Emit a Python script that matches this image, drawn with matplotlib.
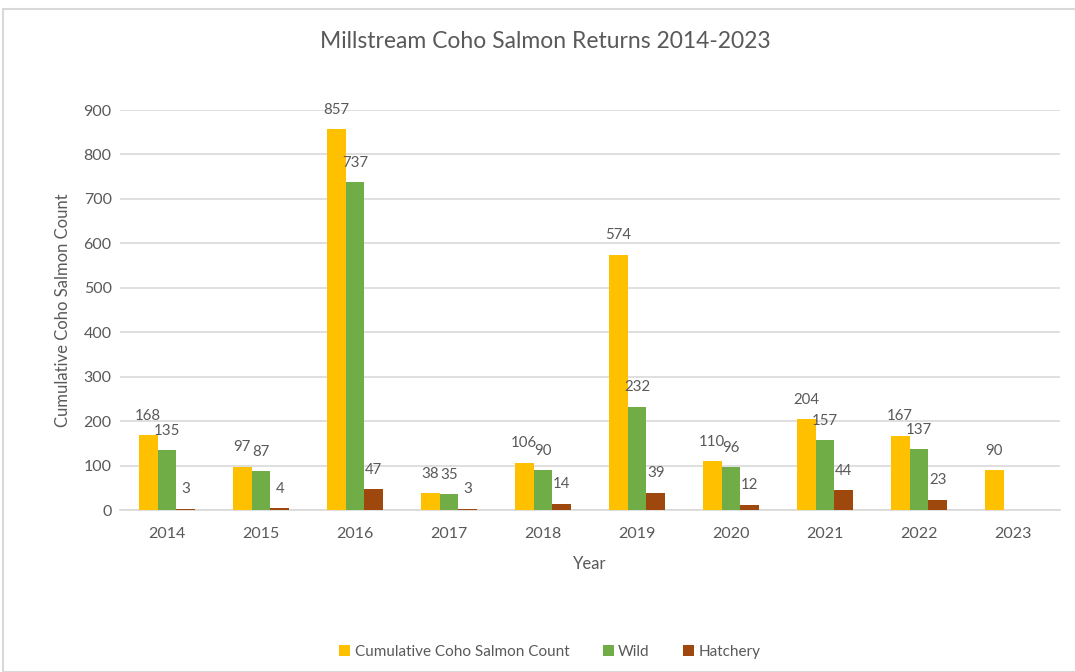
import matplotlib
matplotlib.use("Agg")
import matplotlib.pyplot as plt
import numpy as np
from matplotlib.patches import Rectangle

years = ["2014", "2015", "2016", "2017", "2018", "2019", "2020", "2021", "2022", "2023"]
cumulative = [168, 97, 857, 38, 106, 574, 110, 204, 167, 90]
wild = [135, 87, 737, 35, 90, 232, 96, 157, 137, None]
hatchery = [3, 4, 47, 3, 14, 39, 12, 44, 23, None]

series_names = ["Cumulative Coho Salmon Count", "Wild", "Hatchery"]
colors = ["#FFC000", "#70AD47", "#9E480E"]
text_color = "#595959"

plt.rcParams['font.family'] = ['Lato', 'DejaVu Sans']

fig = plt.figure(figsize=(10.75, 6.72), dpi=100)
fig.patches.append(Rectangle((3/1075, 0), 1.2, 1 - 9/672, transform=fig.transFigure,
                             fill=False, edgecolor="#D9D9D9", linewidth=1.5))
ax = fig.add_axes([120/1075, 1 - 510/672, 940/1075, 400/672])

x = np.arange(len(years))
width = 0.2
offsets = [-width, 0, width]
for vals, off, col, name in zip([cumulative, wild, hatchery], offsets, colors, series_names):
    xs = [xi + off for xi, v in zip(x, vals) if v is not None]
    vs = [v for v in vals if v is not None]
    ax.bar(xs, vs, width=width, color=col, label=name, zorder=3)
    for xi, v in zip(xs, vs):
        ax.annotate(str(v), (xi, v), xytext=(0, 14), textcoords="offset points",
                    ha="center", va="center", fontsize=10.8, color=text_color)

ax.set_xlim(-0.5, len(years) - 0.5)
ax.set_ylim(0, 900)
ax.set_yticks(range(0, 901, 100))
ax.set_xticks(x)
ax.set_xticklabels(years)
ax.tick_params(axis="both", length=0, labelsize=11.5, labelcolor=text_color)
ax.tick_params(axis="x", pad=12)
ax.tick_params(axis="y", pad=6)
ax.grid(axis="y", color="#D9D9D9", linewidth=1.2, zorder=0)
for s in ["top", "right", "left"]:
    ax.spines[s].set_visible(False)
ax.spines["bottom"].set_color("#D9D9D9")
ax.spines["bottom"].set_linewidth(1.2)

ax.set_xlabel("Year", fontsize=12, color=text_color, labelpad=11)
ax.set_ylabel("Cumulative Coho Salmon Count", fontsize=12, color=text_color, labelpad=9)

fig.text(545/1075, 1 - 41/672, "Millstream Coho Salmon Returns 2014-2023",
         ha="center", va="center", fontsize=16.5, color=text_color)

handles, labels = ax.get_legend_handles_labels()
fig.legend(handles, labels, loc="center", bbox_to_anchor=(550/1075, 1 - 652/672),
           ncol=3, frameon=False, fontsize=11, labelcolor=text_color,
           handlelength=0.7, handleheight=0.7, handletextpad=0.3, columnspacing=2.2)

fig.savefig("out.png", dpi=100)
